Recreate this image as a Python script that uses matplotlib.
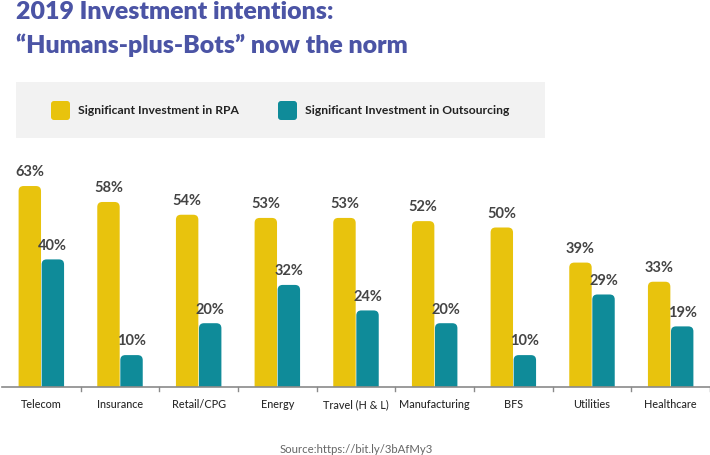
import matplotlib
matplotlib.use("Agg")
import matplotlib.pyplot as plt
from matplotlib.patches import FancyBboxPatch, Rectangle

plt.rcParams['font.family'] = ['Lato', 'DejaVu Sans']

categories = ['Telecom', 'Insurance', 'Retail/CPG', 'Energy', 'Travel (H & L)',
              'Manufacturing', 'BFS', 'Utilities', 'Healthcare']
rpa = [63, 58, 54, 53, 53, 52, 50, 39, 33]
outsourcing = [40, 10, 20, 32, 24, 20, 10, 29, 19]
series_names = ['Significant Investment in RPA', 'Significant Investment in Outsourcing']

YELLOW = '#E8C30D'
TEAL = '#0F8B99'
TITLE_C = '#4B54A5'
W, H = 710, 456


def fx(x):
    return x / W


def fy(y):
    return 1 - y / H


fig = plt.figure(figsize=(W / 100, H / 100), dpi=100)
fig.patch.set_facecolor('white')

# axes placement in pixels
ax_left, ax_right, ax_base, ymax = 2, 710, 388, 70
px_per_pct = 3.19
ax_top = ax_base - ymax * px_per_pct
ax = fig.add_axes([fx(ax_left), fy(ax_base), (ax_right - ax_left) / W, (ax_base - ax_top) / H])
ax.set_xlim(-0.5, len(categories) - 0.5)
ax.set_ylim(0, ymax)
ax.axis('off')

bw = 0.285
gap = 0.008
x_per_px = len(categories) / (ax_right - ax_left)
y_per_px = 1 / px_per_pct
aspect = y_per_px / x_per_px
rad = 5 * x_per_px

for i, (a, b) in enumerate(zip(rpa, outsourcing)):
    for val, off, col in ((a, -(bw / 2 + gap / 2), YELLOW), (b, bw / 2 + gap / 2, TEAL)):
        x0 = i + off - bw / 2
        p = FancyBboxPatch((x0, -3), bw, val + 3,
                           boxstyle=f"round,pad=0,rounding_size={rad}",
                           mutation_aspect=aspect, fc=col, ec='none')
        ax.add_patch(p)
        ax.text(i + off, val + 2.4, f'{val}%', ha='center', va='bottom',
                fontsize=10.5, fontweight='bold', color='#444444')

# baseline and ticks
ax.plot([-0.5, len(categories) - 0.5], [0, 0], color='#8a8a8a', lw=1.2, clip_on=False)
for k in range(1, len(categories) + 1):
    ax.plot([k - 0.5, k - 0.5], [0, -4 * y_per_px], color='#8a8a8a', lw=1, clip_on=False)
for i, c in enumerate(categories):
    ax.text(i, -17 * y_per_px, c, ha='center', va='center', fontsize=7.8,
            fontweight='medium', color='#2a2a2a')

# title
fig.text(fx(16), fy(12), '2019 Investment intentions:', fontsize=17.9, fontweight='heavy',
         color=TITLE_C, va='center', ha='left')
fig.text(fx(16), fy(45), '\u201cHumans-plus-Bots\u201d now the norm', fontsize=17.9,
         fontweight='heavy', color=TITLE_C, va='center', ha='left')

# legend
fig.patches.append(Rectangle((fx(16), fy(139)), (545 - 16) / W, (139 - 83) / H,
                             transform=fig.transFigure, fc='#f2f2f2', ec='none'))
for lx, col, name in ((51, YELLOW, series_names[0]), (278, TEAL, series_names[1])):
    fig.patches.append(FancyBboxPatch((fx(lx), fy(121)), 19 / W, 19 / H,
                                      boxstyle=f"round,pad=0,rounding_size={3 / W}",
                                      mutation_aspect=W / H,
                                      transform=fig.transFigure, fc=col, ec='none'))
    fig.text(fx(lx + 27), fy(111), name, fontsize=8.7, fontweight='bold',
             color='#222222', va='center', ha='left')

fig.text(fx(356), fy(450), 'Source:https://bit.ly/3bAfMy3', fontsize=8.2,
         color='#666666', ha='center', va='center')

fig.savefig('out.png', dpi=100)
